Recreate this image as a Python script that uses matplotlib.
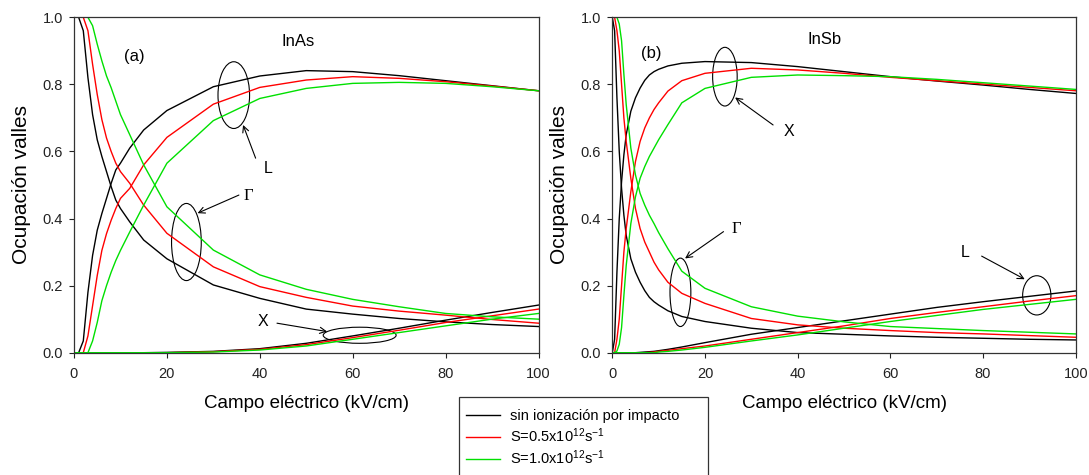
import matplotlib
matplotlib.use("Agg")
import matplotlib.pyplot as plt
from matplotlib.patches import Ellipse, Rectangle
from matplotlib.lines import Line2D

plt.rcParams['font.family'] = ['Liberation Sans', 'DejaVu Sans']
plt.rcParams['mathtext.fontset'] = 'custom'
plt.rcParams['mathtext.rm'] = 'Liberation Sans'
plt.rcParams['mathtext.it'] = 'Liberation Sans:italic'
plt.rcParams['mathtext.bf'] = 'Liberation Sans:bold'

# ---------------- InAs (a) ----------------
field_inas = [0, 1, 2, 3, 4, 5, 6, 7, 8, 9, 10, 12, 15, 20, 30, 40, 50, 60, 70, 80, 90, 100]

inas_gamma_s0 = [1.0, 1.0, 0.96, 0.82, 0.71, 0.635, 0.585, 0.54, 0.495, 0.455, 0.43, 0.39, 0.336, 0.28,
                 0.202, 0.162, 0.13, 0.115, 0.102, 0.092, 0.084, 0.078]
inas_l_s0 = [0.0, 0.0, 0.035, 0.18, 0.29, 0.365, 0.415, 0.46, 0.505, 0.545, 0.565, 0.61, 0.664, 0.722,
             0.793, 0.825, 0.841, 0.838, 0.826, 0.811, 0.796, 0.781]
inas_x_s0 = [0, 0, 0, 0, 0, 0, 0, 0, 0, 0, 0, 0, 0, 0.001,
             0.004, 0.012, 0.028, 0.05, 0.073, 0.097, 0.12, 0.142]

inas_gamma_s05 = [1.0, 1.0, 1.0, 0.96, 0.86, 0.77, 0.695, 0.64, 0.6, 0.565, 0.54, 0.505, 0.44, 0.356,
                  0.256, 0.197, 0.165, 0.139, 0.124, 0.112, 0.099, 0.088]
inas_l_s05 = [0.0, 0.0, 0.0, 0.05, 0.14, 0.23, 0.305, 0.355, 0.395, 0.43, 0.46, 0.49, 0.56, 0.642,
              0.741, 0.791, 0.813, 0.823, 0.818, 0.808, 0.795, 0.781]
inas_x_s05 = [0, 0, 0, 0, 0, 0, 0, 0, 0, 0, 0, 0, 0, 0.0,
              0.003, 0.01, 0.024, 0.045, 0.067, 0.09, 0.11, 0.13]

inas_gamma_s10 = [1.0, 1.0, 1.0, 1.0, 0.975, 0.92, 0.87, 0.825, 0.79, 0.75, 0.71, 0.65, 0.56, 0.435,
                  0.306, 0.232, 0.189, 0.159, 0.137, 0.117, 0.107, 0.1]
inas_l_s10 = [0.0, 0.0, 0.0, 0.0, 0.035, 0.09, 0.155, 0.2, 0.24, 0.275, 0.305, 0.36, 0.44, 0.565,
              0.692, 0.758, 0.788, 0.803, 0.806, 0.803, 0.793, 0.781]
inas_x_s10 = [0, 0, 0, 0, 0, 0, 0, 0, 0, 0, 0, 0, 0, 0.0,
              0.002, 0.008, 0.02, 0.04, 0.06, 0.08, 0.1, 0.117]

# ---------------- InSb (b) ----------------
field_insb = [0, 0.5, 1, 1.5, 2, 2.5, 3, 4, 5, 6, 7, 8, 9, 10, 12, 15, 20, 30, 40, 50, 60, 70, 80, 90, 100]

insb_gamma_s0 = [1.0, 0.96, 0.76, 0.6, 0.49, 0.41, 0.35, 0.28, 0.24, 0.21, 0.185, 0.165, 0.152, 0.142,
                 0.125, 0.108, 0.093, 0.073, 0.06, 0.055, 0.05, 0.046, 0.043, 0.04, 0.038]
insb_x_s0 = [0.0, 0.04, 0.24, 0.4, 0.51, 0.59, 0.65, 0.72, 0.76, 0.789, 0.812, 0.828, 0.838, 0.845,
             0.855, 0.863, 0.868, 0.865, 0.853, 0.838, 0.823, 0.81, 0.798, 0.785, 0.773]
insb_l_s0 = [0, 0, 0, 0, 0, 0, 0, 0, 0, 0.001, 0.002, 0.003, 0.004, 0.006,
             0.01, 0.017, 0.03, 0.055, 0.075, 0.095, 0.115, 0.135, 0.152, 0.168, 0.184]

insb_gamma_s05 = [1.0, 1.0, 0.96, 0.9, 0.8, 0.7, 0.63, 0.52, 0.43, 0.37, 0.33, 0.3, 0.27, 0.247,
                  0.21, 0.177, 0.147, 0.102, 0.083, 0.073, 0.066, 0.06, 0.056, 0.051, 0.046]
insb_x_s05 = [0.0, 0.0, 0.04, 0.1, 0.2, 0.3, 0.37, 0.48, 0.57, 0.63, 0.67, 0.7, 0.725, 0.745,
              0.78, 0.811, 0.833, 0.848, 0.843, 0.833, 0.821, 0.811, 0.801, 0.791, 0.781]
insb_l_s05 = [0, 0, 0, 0, 0, 0, 0, 0, 0, 0, 0, 0.001, 0.002, 0.004,
              0.007, 0.012, 0.02, 0.04, 0.06, 0.08, 0.102, 0.12, 0.137, 0.154, 0.17]

insb_gamma_s10 = [1.0, 1.0, 1.0, 0.98, 0.93, 0.83, 0.74, 0.61, 0.53, 0.475, 0.44, 0.41, 0.385, 0.358,
                  0.31, 0.243, 0.192, 0.137, 0.109, 0.092, 0.078, 0.072, 0.066, 0.061, 0.056]
insb_x_s10 = [0.0, 0.0, 0.005, 0.025, 0.075, 0.17, 0.26, 0.385, 0.465, 0.52, 0.555, 0.585, 0.61, 0.635,
              0.68, 0.745, 0.788, 0.821, 0.828, 0.826, 0.823, 0.815, 0.805, 0.795, 0.785]
insb_l_s10 = [0, 0, 0, 0, 0, 0, 0, 0, 0, 0, 0, 0, 0, 0.002,
              0.004, 0.008, 0.016, 0.035, 0.053, 0.073, 0.093, 0.111, 0.129, 0.144, 0.159]

series_labels = ['sin ionización por impacto',
                 r'S=0.5x10$^{\mathregular{12}}$s$^{\mathregular{-1}}$',
                 r'S=1.0x10$^{\mathregular{12}}$s$^{\mathregular{-1}}$']
series_colors = ['#000000', '#ff0000', '#00e000']

W, H = 1089, 475
fig = plt.figure(figsize=(W / 100, H / 100), dpi=100)

ax_a = fig.add_axes([74 / W, 1 - 352.7 / H, 464.5 / W, 335.4 / H])
ax_b = fig.add_axes([612.3 / W, 1 - 352.7 / H, 463.4 / W, 335.4 / H])

panels = [
    (ax_a, field_inas,
     [(inas_gamma_s0, inas_l_s0, inas_x_s0),
      (inas_gamma_s05, inas_l_s05, inas_x_s05),
      (inas_gamma_s10, inas_l_s10, inas_x_s10)]),
    (ax_b, field_insb,
     [(insb_gamma_s0, insb_x_s0, insb_l_s0),
      (insb_gamma_s05, insb_x_s05, insb_l_s05),
      (insb_gamma_s10, insb_x_s10, insb_l_s10)]),
]

for ax, field, groups in panels:
    for color, curves in zip(series_colors, groups):
        for yvals in curves:
            ax.plot(field, yvals, color=color, lw=1.0, solid_joinstyle='round')
    ax.set_xlim(0, 100)
    ax.set_ylim(0, 1.0)
    ax.set_xticks([0, 20, 40, 60, 80, 100])
    ax.set_yticks([0.0, 0.2, 0.4, 0.6, 0.8, 1.0])
    ax.set_yticklabels(['%.1f' % v for v in [0.0, 0.2, 0.4, 0.6, 0.8, 1.0]])
    ax.tick_params(axis='both', direction='out', length=3.6, width=0.8, labelsize=10.5,
                   colors='#222222')
    ax.tick_params(axis='x', pad=7)
    ax.tick_params(axis='y', pad=4.5)
    for sp in ax.spines.values():
        sp.set_linewidth(0.9)
        sp.set_color('#333333')
    ax.set_xlabel('Campo eléctrico (kV/cm)', fontsize=13.5, labelpad=10)
    ax.set_ylabel('Ocupación valles', fontsize=15, labelpad=8)

ann_kw = dict(arrowprops=dict(arrowstyle='->', lw=0.8, color='black', mutation_scale=11,
                              shrinkA=0, shrinkB=0))

# panel (a) annotations
ax_a.text(12.9, 0.883, '(a)', fontsize=12, ha='center', va='center')
ax_a.text(48.2, 0.927, 'InAs', fontsize=12, ha='center', va='center')
ax_a.add_patch(Ellipse((34.4, 0.768), 6.8, 0.199, fill=False, lw=0.8, color='black'))
ax_a.annotate('', xy=(36.4, 0.679), xytext=(39.1, 0.58), **ann_kw)
ax_a.text(41.8, 0.55, 'L', fontsize=11.5, ha='center', va='center')
ax_a.add_patch(Ellipse((24.2, 0.33), 6.4, 0.23, fill=False, lw=0.8, color='black'))
ax_a.annotate('', xy=(26.6, 0.416), xytext=(35.5, 0.47), **ann_kw)
ax_a.text(37.6, 0.468, 'Γ', fontsize=12, ha='center', va='center', family='Liberation Serif')
ax_a.add_patch(Ellipse((61.5, 0.052), 15.7, 0.048, fill=False, lw=0.8, color='black'))
ax_a.annotate('', xy=(54.5, 0.063), xytext=(43.7, 0.088), **ann_kw)
ax_a.text(40.6, 0.092, 'X', fontsize=11.5, ha='center', va='center')

# panel (b) annotations
ax_b.text(8.5, 0.893, '(b)', fontsize=12, ha='center', va='center')
ax_b.text(45.9, 0.934, 'InSb', fontsize=12, ha='center', va='center')
ax_b.add_patch(Ellipse((24.3, 0.823), 5.3, 0.175, fill=False, lw=0.8, color='black'))
ax_b.annotate('', xy=(26.5, 0.761), xytext=(34.7, 0.679), **ann_kw)
ax_b.text(38.2, 0.659, 'X', fontsize=11.5, ha='center', va='center')
ax_b.add_patch(Ellipse((14.7, 0.18), 4.5, 0.204, fill=False, lw=0.8, color='black'))
ax_b.annotate('', xy=(15.7, 0.281), xytext=(24.0, 0.361), **ann_kw)
ax_b.text(26.8, 0.368, 'Γ', fontsize=12, ha='center', va='center', family='Liberation Serif')
ax_b.add_patch(Ellipse((91.6, 0.171), 6.1, 0.117, fill=False, lw=0.8, color='black'))
ax_b.annotate('', xy=(89.0, 0.219), xytext=(79.7, 0.288), **ann_kw)
ax_b.text(76.1, 0.298, 'L', fontsize=11.5, ha='center', va='center')

# shared legend at the bottom
handles = [Line2D([], [], color=c, lw=1.0) for c in series_colors]
fig.legend(handles, series_labels, loc='upper left',
           bbox_to_anchor=(466 / W, 1 - 409 / H), frameon=False, fontsize=10.5,
           handlelength=2.35, handletextpad=0.7, labelspacing=0.22,
           borderpad=0, borderaxespad=0)
fig.patches.append(Rectangle((459 / W, -0.05), 249 / W, 0.05 + 1 - 396.7 / H,
                             transform=fig.transFigure, fill=False, lw=0.9,
                             edgecolor='#333333'))

fig.savefig('out.png', dpi=100)
